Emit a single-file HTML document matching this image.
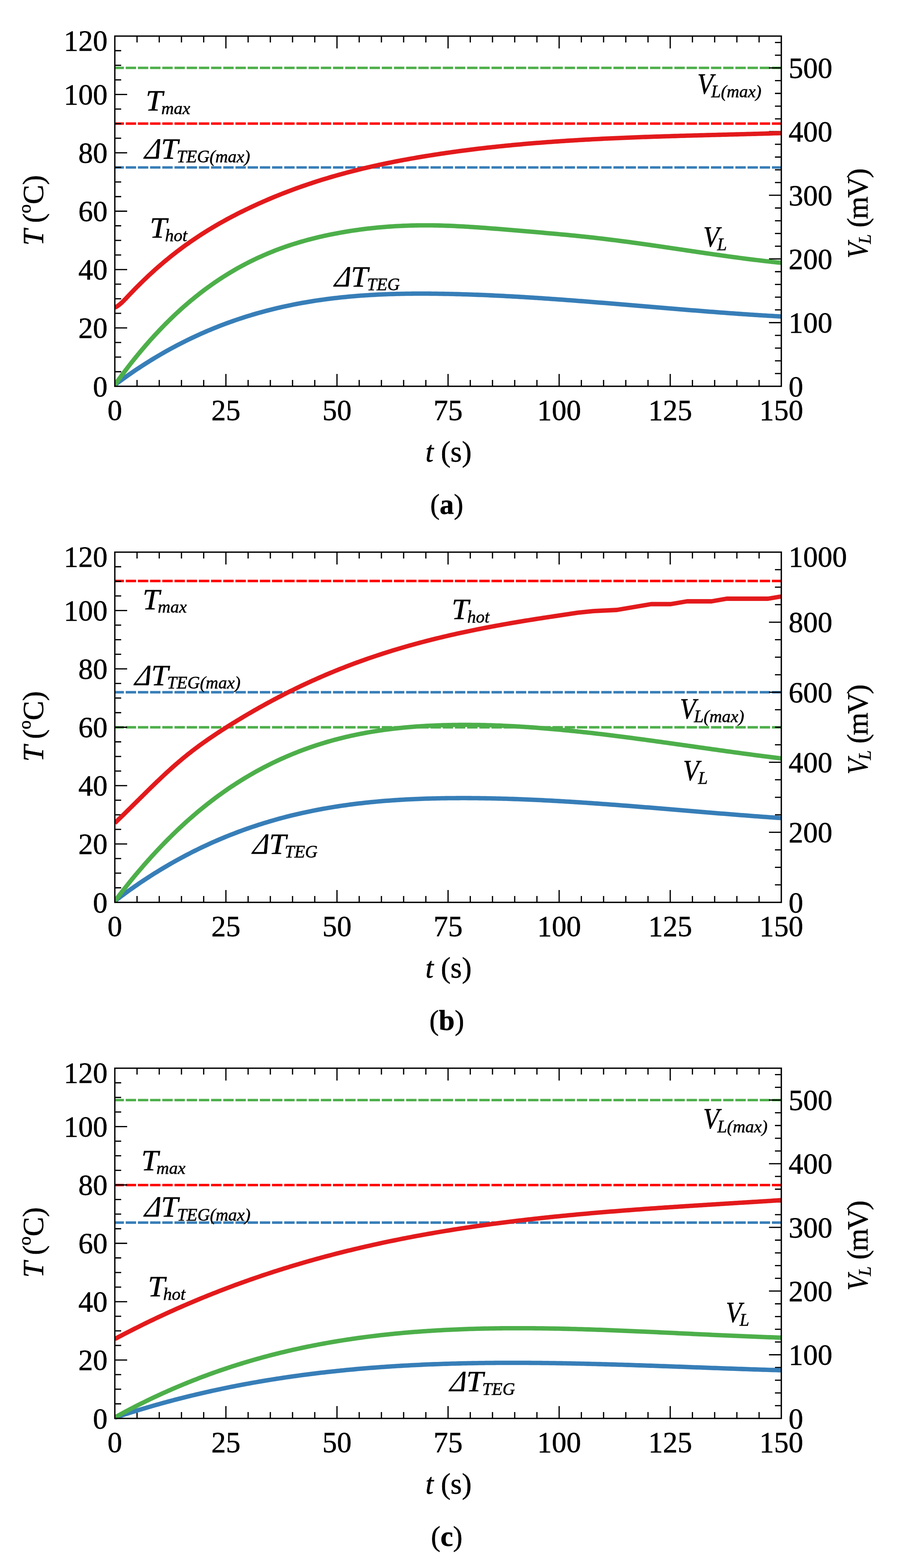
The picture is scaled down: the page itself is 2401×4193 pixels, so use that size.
<!DOCTYPE html>
<html><head><meta charset="utf-8"><title>Figure</title>
<style>
html,body{margin:0;padding:0;background:#fff;}
svg{display:block;}
text{font-family:"Liberation Serif","Times New Roman",serif;font-size:78px;fill:#000;stroke:#000;stroke-width:0.8px;}
.it{font-style:italic;}
.cap{font-size:76px;}
</style></head>
<body>
<svg width="2401" height="4193" viewBox="0 0 2401 4193">
<rect width="2401" height="4193" fill="#fff"/>
<defs><clipPath id="clip0"><rect x="307" y="86.5" width="1783" height="956.5"/></clipPath><clipPath id="clip1"><rect x="307" y="1466.5" width="1783" height="956.5"/></clipPath><clipPath id="clip2"><rect x="307" y="2846.5" width="1783" height="956.5"/></clipPath></defs>
<line x1="307" y1="181.5" x2="2089" y2="181.5" stroke="#4DAF4A" stroke-width="6.6" stroke-dasharray="27.8 4.8" stroke-dashoffset="3.5"/>
<line x1="307" y1="330.5" x2="2089" y2="330.5" stroke="#FF0000" stroke-width="6.6" stroke-dasharray="27.8 4.8" stroke-dashoffset="3.5"/>
<line x1="307" y1="447.8" x2="2089" y2="447.8" stroke="#377EB8" stroke-width="6.6" stroke-dasharray="27.8 4.8" stroke-dashoffset="3.5"/>
<path d="M366.4 1033v-17M366.4 96.5v17M425.8 1033v-17M425.8 96.5v17M485.2 1033v-17M485.2 96.5v17M544.6 1033v-17M544.6 96.5v17M604 1033v-33M604 96.5v33M663.4 1033v-17M663.4 96.5v17M722.8 1033v-17M722.8 96.5v17M782.2 1033v-17M782.2 96.5v17M841.6 1033v-17M841.6 96.5v17M901 1033v-33M901 96.5v33M960.4 1033v-17M960.4 96.5v17M1019.8 1033v-17M1019.8 96.5v17M1079.2 1033v-17M1079.2 96.5v17M1138.6 1033v-17M1138.6 96.5v17M1198 1033v-33M1198 96.5v33M1257.4 1033v-17M1257.4 96.5v17M1316.8 1033v-17M1316.8 96.5v17M1376.2 1033v-17M1376.2 96.5v17M1435.6 1033v-17M1435.6 96.5v17M1495 1033v-33M1495 96.5v33M1554.4 1033v-17M1554.4 96.5v17M1613.8 1033v-17M1613.8 96.5v17M1673.2 1033v-17M1673.2 96.5v17M1732.6 1033v-17M1732.6 96.5v17M1792 1033v-33M1792 96.5v33M1851.4 1033v-17M1851.4 96.5v17M1910.8 1033v-17M1910.8 96.5v17M1970.2 1033v-17M1970.2 96.5v17M2029.6 1033v-17M2029.6 96.5v17M307 993.98h17M307 954.96h17M307 915.94h17M307 876.92h33M307 837.9h17M307 798.88h17M307 759.85h17M307 720.83h33M307 681.81h17M307 642.79h17M307 603.77h17M307 564.75h33M307 525.73h17M307 486.71h17M307 447.69h17M307 408.67h33M307 369.65h17M307 330.62h17M307 291.6h17M307 252.58h33M307 213.56h17M307 174.54h17M307 135.52h17M2089 998.95h-17M2089 964.89h-17M2089 930.84h-17M2089 896.78h-17M2089 862.73h-33M2089 828.67h-17M2089 794.62h-17M2089 760.56h-17M2089 726.51h-17M2089 692.45h-33M2089 658.4h-17M2089 624.35h-17M2089 590.29h-17M2089 556.24h-17M2089 522.18h-33M2089 488.13h-17M2089 454.07h-17M2089 420.02h-17M2089 385.96h-17M2089 351.91h-33M2089 317.85h-17M2089 283.8h-17M2089 249.75h-17M2089 215.69h-17M2089 181.64h-33M2089 147.58h-17M2089 113.53h-17" stroke="#000" stroke-width="3.3" fill="none"/>
<path d="M307 1029.39 L312.94 1024.93 L318.88 1020.53 L324.82 1016.18 L330.76 1011.88 L336.7 1007.64 L342.64 1003.44 L348.58 999.3 L354.52 995.21 L360.46 991.17 L366.4 987.17 L372.34 983.23 L378.28 979.34 L384.22 975.5 L390.16 971.7 L396.1 967.96 L402.04 964.26 L407.98 960.61 L413.92 957.01 L419.86 953.46 L425.8 949.96 L431.74 946.5 L437.68 943.09 L443.62 939.72 L449.56 936.4 L455.5 933.13 L461.44 929.9 L467.38 926.72 L473.32 923.58 L479.26 920.49 L485.2 917.44 L491.14 914.43 L497.08 911.47 L503.02 908.55 L508.96 905.68 L514.9 902.85 L520.84 900.06 L526.78 897.31 L532.72 894.61 L538.66 891.95 L544.6 889.32 L550.54 886.74 L556.48 884.2 L562.42 881.7 L568.36 879.24 L574.3 876.83 L580.24 874.45 L586.18 872.1 L592.12 869.8 L598.06 867.54 L604 865.32 L609.94 863.13 L615.88 860.98 L621.82 858.87 L627.76 856.8 L633.7 854.76 L639.64 852.76 L645.58 850.8 L651.52 848.87 L657.46 846.98 L663.4 845.12 L669.34 843.3 L675.28 841.51 L681.22 839.76 L687.16 838.04 L693.1 836.36 L699.04 834.71 L704.98 833.09 L710.92 831.51 L716.86 829.96 L722.8 828.44 L728.74 826.95 L734.68 825.5 L740.62 824.08 L746.56 822.68 L752.5 821.32 L758.44 819.99 L764.38 818.69 L770.32 817.42 L776.26 816.19 L782.2 814.98 L788.14 813.79 L794.08 812.64 L800.02 811.52 L805.96 810.42 L811.9 809.36 L817.84 808.32 L823.78 807.31 L829.72 806.32 L835.66 805.37 L841.6 804.43 L847.54 803.53 L853.48 802.65 L859.42 801.8 L865.36 800.97 L871.3 800.17 L877.24 799.39 L883.18 798.64 L889.12 797.91 L895.06 797.2 L901 796.52 L906.94 795.86 L912.88 795.22 L918.82 794.61 L924.76 794.02 L930.7 793.45 L936.64 792.91 L942.58 792.38 L948.52 791.88 L954.46 791.4 L960.4 790.93 L966.34 790.49 L972.28 790.07 L978.22 789.67 L984.16 789.28 L990.1 788.92 L996.04 788.58 L1001.98 788.25 L1007.92 787.94 L1013.86 787.65 L1019.8 787.38 L1025.74 787.13 L1031.68 786.89 L1037.62 786.67 L1043.56 786.46 L1049.5 786.27 L1055.44 786.1 L1061.38 785.94 L1067.32 785.8 L1073.26 785.68 L1079.2 785.56 L1085.14 785.47 L1091.08 785.38 L1097.02 785.31 L1102.96 785.26 L1108.9 785.22 L1114.84 785.19 L1120.78 785.17 L1126.72 785.16 L1132.66 785.17 L1138.6 785.19 L1144.54 785.22 L1150.48 785.26 L1156.42 785.31 L1162.36 785.38 L1168.3 785.45 L1174.24 785.53 L1180.18 785.63 L1186.12 785.73 L1192.06 785.84 L1198 785.96 L1203.94 786.09 L1209.88 786.22 L1215.82 786.37 L1221.76 786.52 L1227.7 786.68 L1233.64 786.85 L1239.58 787.03 L1245.52 787.22 L1251.46 787.41 L1257.4 787.61 L1263.34 787.82 L1269.28 788.03 L1275.22 788.26 L1281.16 788.49 L1287.1 788.72 L1293.04 788.97 L1298.98 789.22 L1304.92 789.48 L1310.86 789.74 L1316.8 790.01 L1322.74 790.29 L1328.68 790.58 L1334.62 790.87 L1340.56 791.16 L1346.5 791.47 L1352.44 791.78 L1358.38 792.09 L1364.32 792.41 L1370.26 792.74 L1376.2 793.07 L1382.14 793.41 L1388.08 793.76 L1394.02 794.11 L1399.96 794.46 L1405.9 794.82 L1411.84 795.19 L1417.78 795.56 L1423.72 795.93 L1429.66 796.31 L1435.6 796.7 L1441.54 797.09 L1447.48 797.48 L1453.42 797.88 L1459.36 798.28 L1465.3 798.69 L1471.24 799.1 L1477.18 799.52 L1483.12 799.94 L1489.06 800.36 L1495 800.79 L1500.94 801.22 L1506.88 801.65 L1512.82 802.09 L1518.76 802.53 L1524.7 802.98 L1530.64 803.42 L1536.58 803.87 L1542.52 804.33 L1548.46 804.79 L1554.4 805.25 L1560.34 805.71 L1566.28 806.17 L1572.22 806.64 L1578.16 807.11 L1584.1 807.58 L1590.04 808.06 L1595.98 808.54 L1601.92 809.02 L1607.86 809.5 L1613.8 809.98 L1619.74 810.47 L1625.68 810.95 L1631.62 811.44 L1637.56 811.93 L1643.5 812.42 L1649.44 812.91 L1655.38 813.41 L1661.32 813.9 L1667.26 814.4 L1673.2 814.9 L1679.14 815.39 L1685.08 815.89 L1691.02 816.39 L1696.96 816.89 L1702.9 817.39 L1708.84 817.89 L1714.78 818.39 L1720.72 818.89 L1726.66 819.39 L1732.6 819.89 L1738.54 820.4 L1744.48 820.9 L1750.42 821.4 L1756.36 821.9 L1762.3 822.4 L1768.24 822.89 L1774.18 823.39 L1780.12 823.89 L1786.06 824.39 L1792 824.88 L1797.94 825.38 L1803.88 825.87 L1809.82 826.36 L1815.76 826.85 L1821.7 827.34 L1827.64 827.83 L1833.58 828.32 L1839.52 828.8 L1845.46 829.28 L1851.4 829.76 L1857.34 830.24 L1863.28 830.72 L1869.22 831.19 L1875.16 831.67 L1881.1 832.14 L1887.04 832.6 L1892.98 833.07 L1898.92 833.53 L1904.86 833.99 L1910.8 834.44 L1916.74 834.9 L1922.68 835.35 L1928.62 835.79 L1934.56 836.24 L1940.5 836.68 L1946.44 837.12 L1952.38 837.55 L1958.32 837.98 L1964.26 838.4 L1970.2 838.83 L1976.14 839.24 L1982.08 839.66 L1988.02 840.07 L1993.96 840.47 L1999.9 840.88 L2005.84 841.27 L2011.78 841.67 L2017.72 842.05 L2023.66 842.44 L2029.6 842.82 L2035.54 843.19 L2041.48 843.56 L2047.42 843.92 L2053.36 844.28 L2059.3 844.63 L2065.24 844.98 L2071.18 845.32 L2077.12 845.66 L2083.06 845.99 L2089 846.32" stroke="#377EB8" stroke-width="11.8" fill="none" stroke-linejoin="round" clip-path="url(#clip0)"/>
<path d="M307 1029.05 L312.94 1020.79 L318.88 1012.63 L324.82 1004.59 L330.76 996.64 L336.7 988.81 L342.64 981.08 L348.58 973.45 L354.52 965.93 L360.46 958.51 L366.4 951.19 L372.34 943.98 L378.28 936.87 L384.22 929.86 L390.16 922.95 L396.1 916.14 L402.04 909.44 L407.98 902.83 L413.92 896.32 L419.86 889.91 L425.8 883.6 L431.74 877.38 L437.68 871.26 L443.62 865.24 L449.56 859.32 L455.5 853.48 L461.44 847.75 L467.38 842.1 L473.32 836.55 L479.26 831.08 L485.2 825.71 L491.14 820.43 L497.08 815.23 L503.02 810.12 L508.96 805.1 L514.9 800.17 L520.84 795.32 L526.78 790.55 L532.72 785.87 L538.66 781.27 L544.6 776.76 L550.54 772.32 L556.48 767.96 L562.42 763.69 L568.36 759.49 L574.3 755.37 L580.24 751.32 L586.18 747.35 L592.12 743.46 L598.06 739.64 L604 735.9 L609.94 732.22 L615.88 728.62 L621.82 725.09 L627.76 721.63 L633.7 718.24 L639.64 714.91 L645.58 711.66 L651.52 708.47 L657.46 705.35 L663.4 702.29 L669.34 699.29 L675.28 696.36 L681.22 693.49 L687.16 690.69 L693.1 687.94 L699.04 685.26 L704.98 682.63 L710.92 680.06 L716.86 677.55 L722.8 675.1 L728.74 672.7 L734.68 670.36 L740.62 668.07 L746.56 665.83 L752.5 663.65 L758.44 661.52 L764.38 659.44 L770.32 657.41 L776.26 655.43 L782.2 653.5 L788.14 651.62 L794.08 649.78 L800.02 647.99 L805.96 646.25 L811.9 644.55 L817.84 642.89 L823.78 641.27 L829.72 639.7 L835.66 638.17 L841.6 636.68 L847.54 635.23 L853.48 633.82 L859.42 632.45 L865.36 631.11 L871.3 629.81 L877.24 628.55 L883.18 627.32 L889.12 626.12 L895.06 624.96 L901 623.83 L906.94 622.73 L912.88 621.66 L918.82 620.62 L924.76 619.62 L930.7 618.64 L936.64 617.7 L942.58 616.79 L948.52 615.9 L954.46 615.05 L960.4 614.22 L966.34 613.43 L972.28 612.67 L978.22 611.93 L984.16 611.22 L990.1 610.55 L996.04 609.9 L1001.98 609.28 L1007.92 608.69 L1013.86 608.13 L1019.8 607.59 L1025.74 607.09 L1031.68 606.61 L1037.62 606.16 L1043.56 605.74 L1049.5 605.34 L1055.44 604.97 L1061.38 604.63 L1067.32 604.31 L1073.26 604.03 L1079.2 603.76 L1085.14 603.53 L1091.08 603.32 L1097.02 603.13 L1102.96 602.98 L1108.9 602.84 L1114.84 602.74 L1120.78 602.66 L1126.72 602.6 L1132.66 602.57 L1138.6 602.56 L1144.54 602.58 L1150.48 602.62 L1156.42 602.69 L1162.36 602.77 L1168.3 602.88 L1174.24 603.01 L1180.18 603.17 L1186.12 603.34 L1192.06 603.53 L1198 603.74 L1203.94 603.97 L1209.88 604.22 L1215.82 604.48 L1221.76 604.77 L1227.7 605.06 L1233.64 605.38 L1239.58 605.7 L1245.52 606.04 L1251.46 606.4 L1257.4 606.77 L1263.34 607.15 L1269.28 607.54 L1275.22 607.94 L1281.16 608.36 L1287.1 608.78 L1293.04 609.21 L1298.98 609.66 L1304.92 610.11 L1310.86 610.56 L1316.8 611.03 L1322.74 611.5 L1328.68 611.97 L1334.62 612.45 L1340.56 612.94 L1346.5 613.43 L1352.44 613.92 L1358.38 614.42 L1364.32 614.91 L1370.26 615.41 L1376.2 615.91 L1382.14 616.41 L1388.08 616.91 L1394.02 617.41 L1399.96 617.91 L1405.9 618.41 L1411.84 618.91 L1417.78 619.42 L1423.72 619.93 L1429.66 620.44 L1435.6 620.95 L1441.54 621.46 L1447.48 621.98 L1453.42 622.5 L1459.36 623.02 L1465.3 623.55 L1471.24 624.08 L1477.18 624.61 L1483.12 625.15 L1489.06 625.7 L1495 626.25 L1500.94 626.8 L1506.88 627.36 L1512.82 627.92 L1518.76 628.49 L1524.7 629.07 L1530.64 629.65 L1536.58 630.24 L1542.52 630.84 L1548.46 631.45 L1554.4 632.06 L1560.34 632.68 L1566.28 633.3 L1572.22 633.94 L1578.16 634.58 L1584.1 635.23 L1590.04 635.89 L1595.98 636.56 L1601.92 637.24 L1607.86 637.93 L1613.8 638.63 L1619.74 639.34 L1625.68 640.06 L1631.62 640.79 L1637.56 641.52 L1643.5 642.27 L1649.44 643.02 L1655.38 643.79 L1661.32 644.56 L1667.26 645.34 L1673.2 646.13 L1679.14 646.92 L1685.08 647.72 L1691.02 648.53 L1696.96 649.34 L1702.9 650.16 L1708.84 650.99 L1714.78 651.82 L1720.72 652.66 L1726.66 653.5 L1732.6 654.35 L1738.54 655.2 L1744.48 656.05 L1750.42 656.91 L1756.36 657.77 L1762.3 658.64 L1768.24 659.51 L1774.18 660.38 L1780.12 661.25 L1786.06 662.13 L1792 663 L1797.94 663.88 L1803.88 664.76 L1809.82 665.64 L1815.76 666.52 L1821.7 667.4 L1827.64 668.29 L1833.58 669.17 L1839.52 670.05 L1845.46 670.93 L1851.4 671.81 L1857.34 672.68 L1863.28 673.56 L1869.22 674.43 L1875.16 675.3 L1881.1 676.17 L1887.04 677.04 L1892.98 677.9 L1898.92 678.76 L1904.86 679.62 L1910.8 680.47 L1916.74 681.32 L1922.68 682.16 L1928.62 683 L1934.56 683.83 L1940.5 684.66 L1946.44 685.48 L1952.38 686.3 L1958.32 687.11 L1964.26 687.91 L1970.2 688.7 L1976.14 689.49 L1982.08 690.27 L1988.02 691.05 L1993.96 691.81 L1999.9 692.57 L2005.84 693.32 L2011.78 694.06 L2017.72 694.79 L2023.66 695.51 L2029.6 696.22 L2035.54 696.92 L2041.48 697.61 L2047.42 698.3 L2053.36 698.96 L2059.3 699.62 L2065.24 700.27 L2071.18 700.9 L2077.12 701.53 L2083.06 702.14 L2089 702.74" stroke="#4DAF4A" stroke-width="11.8" fill="none" stroke-linejoin="round" clip-path="url(#clip0)"/>
<path d="M307 822.47 L312.94 819.27 L318.88 815.01 L324.82 809.91 L330.76 804.2 L336.7 798.09 L342.64 791.79 L348.58 785.52 L354.52 779.33 L360.46 773.22 L366.4 767.2 L372.34 761.25 L378.28 755.39 L384.22 749.61 L390.16 743.92 L396.1 738.3 L402.04 732.77 L407.98 727.32 L413.92 721.95 L419.86 716.67 L425.8 711.47 L431.74 706.35 L437.68 701.31 L443.62 696.35 L449.56 691.46 L455.5 686.66 L461.44 681.93 L467.38 677.27 L473.32 672.69 L479.26 668.18 L485.2 663.74 L491.14 659.37 L497.08 655.06 L503.02 650.83 L508.96 646.66 L514.9 642.56 L520.84 638.52 L526.78 634.54 L532.72 630.63 L538.66 626.78 L544.6 622.98 L550.54 619.24 L556.48 615.56 L562.42 611.94 L568.36 608.37 L574.3 604.85 L580.24 601.39 L586.18 597.98 L592.12 594.61 L598.06 591.3 L604 588.03 L609.94 584.81 L615.88 581.64 L621.82 578.5 L627.76 575.42 L633.7 572.37 L639.64 569.36 L645.58 566.39 L651.52 563.47 L657.46 560.57 L663.4 557.72 L669.34 554.9 L675.28 552.11 L681.22 549.36 L687.16 546.64 L693.1 543.95 L699.04 541.3 L704.98 538.68 L710.92 536.09 L716.86 533.54 L722.8 531.02 L728.74 528.53 L734.68 526.07 L740.62 523.64 L746.56 521.24 L752.5 518.88 L758.44 516.54 L764.38 514.24 L770.32 511.96 L776.26 509.71 L782.2 507.5 L788.14 505.31 L794.08 503.15 L800.02 501.02 L805.96 498.92 L811.9 496.84 L817.84 494.8 L823.78 492.78 L829.72 490.79 L835.66 488.82 L841.6 486.88 L847.54 484.97 L853.48 483.08 L859.42 481.22 L865.36 479.38 L871.3 477.57 L877.24 475.78 L883.18 474.02 L889.12 472.28 L895.06 470.57 L901 468.88 L906.94 467.21 L912.88 465.57 L918.82 463.95 L924.76 462.35 L930.7 460.78 L936.64 459.22 L942.58 457.69 L948.52 456.18 L954.46 454.69 L960.4 453.22 L966.34 451.77 L972.28 450.34 L978.22 448.93 L984.16 447.55 L990.1 446.18 L996.04 444.83 L1001.98 443.49 L1007.92 442.18 L1013.86 440.89 L1019.8 439.61 L1025.74 438.35 L1031.68 437.11 L1037.62 435.89 L1043.56 434.68 L1049.5 433.49 L1055.44 432.32 L1061.38 431.16 L1067.32 430.02 L1073.26 428.89 L1079.2 427.78 L1085.14 426.68 L1091.08 425.6 L1097.02 424.53 L1102.96 423.48 L1108.9 422.44 L1114.84 421.41 L1120.78 420.4 L1126.72 419.4 L1132.66 418.41 L1138.6 417.44 L1144.54 416.47 L1150.48 415.52 L1156.42 414.58 L1162.36 413.65 L1168.3 412.74 L1174.24 411.84 L1180.18 410.94 L1186.12 410.06 L1192.06 409.19 L1198 408.33 L1203.94 407.49 L1209.88 406.65 L1215.82 405.83 L1221.76 405.01 L1227.7 404.21 L1233.64 403.42 L1239.58 402.64 L1245.52 401.86 L1251.46 401.1 L1257.4 400.35 L1263.34 399.61 L1269.28 398.88 L1275.22 398.16 L1281.16 397.45 L1287.1 396.75 L1293.04 396.06 L1298.98 395.38 L1304.92 394.71 L1310.86 394.05 L1316.8 393.4 L1322.74 392.76 L1328.68 392.13 L1334.62 391.5 L1340.56 390.89 L1346.5 390.28 L1352.44 389.69 L1358.38 389.1 L1364.32 388.52 L1370.26 387.95 L1376.2 387.39 L1382.14 386.84 L1388.08 386.29 L1394.02 385.76 L1399.96 385.23 L1405.9 384.71 L1411.84 384.2 L1417.78 383.69 L1423.72 383.2 L1429.66 382.71 L1435.6 382.23 L1441.54 381.76 L1447.48 381.29 L1453.42 380.84 L1459.36 380.38 L1465.3 379.94 L1471.24 379.51 L1477.18 379.08 L1483.12 378.65 L1489.06 378.24 L1495 377.83 L1500.94 377.43 L1506.88 377.03 L1512.82 376.65 L1518.76 376.26 L1524.7 375.89 L1530.64 375.52 L1536.58 375.16 L1542.52 374.8 L1548.46 374.45 L1554.4 374.1 L1560.34 373.76 L1566.28 373.43 L1572.22 373.1 L1578.16 372.78 L1584.1 372.46 L1590.04 372.15 L1595.98 371.84 L1601.92 371.54 L1607.86 371.25 L1613.8 370.96 L1619.74 370.67 L1625.68 370.39 L1631.62 370.11 L1637.56 369.84 L1643.5 369.57 L1649.44 369.31 L1655.38 369.05 L1661.32 368.8 L1667.26 368.55 L1673.2 368.3 L1679.14 368.06 L1685.08 367.82 L1691.02 367.59 L1696.96 367.36 L1702.9 367.13 L1708.84 366.91 L1714.78 366.69 L1720.72 366.47 L1726.66 366.26 L1732.6 366.05 L1738.54 365.84 L1744.48 365.64 L1750.42 365.43 L1756.36 365.24 L1762.3 365.04 L1768.24 364.85 L1774.18 364.66 L1780.12 364.47 L1786.06 364.29 L1792 364.1 L1797.94 363.92 L1803.88 363.75 L1809.82 363.57 L1815.76 363.39 L1821.7 363.22 L1827.64 363.05 L1833.58 362.88 L1839.52 362.72 L1845.46 362.55 L1851.4 362.38 L1857.34 362.22 L1863.28 362.06 L1869.22 361.9 L1875.16 361.74 L1881.1 361.58 L1887.04 361.42 L1892.98 361.27 L1898.92 361.11 L1904.86 360.95 L1910.8 360.8 L1916.74 360.64 L1922.68 360.49 L1928.62 360.33 L1934.56 360.18 L1940.5 360.03 L1946.44 359.87 L1952.38 359.72 L1958.32 359.56 L1964.26 359.41 L1970.2 359.25 L1976.14 359.1 L1982.08 358.94 L1988.02 358.79 L1993.96 358.63 L1999.9 358.47 L2005.84 358.31 L2011.78 358.15 L2017.72 357.99 L2023.66 357.83 L2029.6 357.66 L2035.54 357.5 L2041.48 357.33 L2047.42 357.16 L2053.36 356.99 L2059.3 356.82 L2065.24 356.65 L2071.18 356.47 L2077.12 356.3 L2083.06 356.12 L2089 355.93" stroke="#E31A1C" stroke-width="11.8" fill="none" stroke-linejoin="round" clip-path="url(#clip0)"/>
<rect x="307" y="96.5" width="1782" height="936.5" fill="none" stroke="#000" stroke-width="3.6"/>
<text x="287.5" y="1059.5" text-anchor="end">0</text>
<text x="287.5" y="903.42" text-anchor="end">20</text>
<text x="287.5" y="747.33" text-anchor="end">40</text>
<text x="287.5" y="591.25" text-anchor="end">60</text>
<text x="287.5" y="435.17" text-anchor="end">80</text>
<text x="287.5" y="279.08" text-anchor="end">100</text>
<text x="287.5" y="134.8" text-anchor="end">120</text>
<text x="307" y="1123.3" text-anchor="middle">0</text>
<text x="604" y="1123.3" text-anchor="middle">25</text>
<text x="901" y="1123.3" text-anchor="middle">50</text>
<text x="1198" y="1123.3" text-anchor="middle">75</text>
<text x="1495" y="1123.3" text-anchor="middle">100</text>
<text x="1792" y="1123.3" text-anchor="middle">125</text>
<text x="2089" y="1123.3" text-anchor="middle">150</text>
<text x="2108.5" y="1059.5">0</text>
<text x="2108.5" y="889.23">100</text>
<text x="2108.5" y="718.95">200</text>
<text x="2108.5" y="548.68">300</text>
<text x="2108.5" y="378.41">400</text>
<text x="2108.5" y="208.14">500</text>
<text x="1137.48" y="1233.8"><tspan class="it">t</tspan> (s)</text>
<g transform="translate(114.8 657) rotate(-90)">
<text class="it" x="0" y="0">T</text>
<text x="60.7" y="0">(<tspan style="font-size:48px" dy="-33.3">o</tspan><tspan dy="33.3">C)</tspan></text>
</g>
<g transform="translate(2318.5 700) rotate(-90)">
<text class="it" transform="translate(8.94 0) scale(0.9 1)">V</text>
<text class="it" style="font-size:46.5px" x="47.84" y="9.7">L</text>
<text x="91.48" y="0" textLength="158.5" lengthAdjust="spacing">(mV)</text>
</g>
<text x="1194.5" y="1374.3" text-anchor="middle" class="cap">(<tspan font-weight="bold">a</tspan>)</text>
<text class="it" transform="translate(389.54 295) scale(1.05 1)">T</text><text class="it" style="font-size:46.5px" x="431.22" y="304.6">max</text>
<text class="it" transform="translate(385.53 424.4) skewX(-13) scale(0.9 1)">&#916;</text><text class="it" transform="translate(430.54 424.4) scale(1.05 1)">T</text><text class="it" style="font-size:46.5px" x="472.46" y="434.3">TEG(max)</text>
<text class="it" transform="translate(400.54 634.9) scale(1.05 1)">T</text><text class="it" style="font-size:46.5px" x="441.22" y="645">hot</text>
<text class="it" transform="translate(893.33 765.7) skewX(-13) scale(0.9 1)">&#916;</text><text class="it" transform="translate(938.34 765.7) scale(1.05 1)">T</text><text class="it" style="font-size:46.5px" x="981.36" y="776.2">TEG</text>
<text class="it" transform="translate(1864.34 250) scale(0.9 1)">V</text><text class="it" style="font-size:46.5px" x="1901.54" y="260">L(max)</text>
<text class="it" transform="translate(1880.24 659) scale(0.9 1)">V</text><text class="it" style="font-size:46.5px" x="1917.44" y="669">L</text>
<line x1="307" y1="1944.9" x2="2089" y2="1944.9" stroke="#4DAF4A" stroke-width="6.6" stroke-dasharray="27.8 4.8" stroke-dashoffset="3.5"/>
<line x1="307" y1="1553.6" x2="2089" y2="1553.6" stroke="#FF0000" stroke-width="6.6" stroke-dasharray="27.8 4.8" stroke-dashoffset="3.5"/>
<line x1="307" y1="1851.1" x2="2089" y2="1851.1" stroke="#377EB8" stroke-width="6.6" stroke-dasharray="27.8 4.8" stroke-dashoffset="3.5"/>
<path d="M366.4 2413v-17M366.4 1476.5v17M425.8 2413v-17M425.8 1476.5v17M485.2 2413v-17M485.2 1476.5v17M544.6 2413v-17M544.6 1476.5v17M604 2413v-33M604 1476.5v33M663.4 2413v-17M663.4 1476.5v17M722.8 2413v-17M722.8 1476.5v17M782.2 2413v-17M782.2 1476.5v17M841.6 2413v-17M841.6 1476.5v17M901 2413v-33M901 1476.5v33M960.4 2413v-17M960.4 1476.5v17M1019.8 2413v-17M1019.8 1476.5v17M1079.2 2413v-17M1079.2 1476.5v17M1138.6 2413v-17M1138.6 1476.5v17M1198 2413v-33M1198 1476.5v33M1257.4 2413v-17M1257.4 1476.5v17M1316.8 2413v-17M1316.8 1476.5v17M1376.2 2413v-17M1376.2 1476.5v17M1435.6 2413v-17M1435.6 1476.5v17M1495 2413v-33M1495 1476.5v33M1554.4 2413v-17M1554.4 1476.5v17M1613.8 2413v-17M1613.8 1476.5v17M1673.2 2413v-17M1673.2 1476.5v17M1732.6 2413v-17M1732.6 1476.5v17M1792 2413v-33M1792 1476.5v33M1851.4 2413v-17M1851.4 1476.5v17M1910.8 2413v-17M1910.8 1476.5v17M1970.2 2413v-17M1970.2 1476.5v17M2029.6 2413v-17M2029.6 1476.5v17M307 2373.98h17M307 2334.96h17M307 2295.94h17M307 2256.92h33M307 2217.9h17M307 2178.88h17M307 2139.85h17M307 2100.83h33M307 2061.81h17M307 2022.79h17M307 1983.77h17M307 1944.75h33M307 1905.73h17M307 1866.71h17M307 1827.69h17M307 1788.67h33M307 1749.65h17M307 1710.62h17M307 1671.6h17M307 1632.58h33M307 1593.56h17M307 1554.54h17M307 1515.52h17M2089 2366.18h-17M2089 2319.35h-17M2089 2272.53h-17M2089 2225.7h-33M2089 2178.88h-17M2089 2132.05h-17M2089 2085.22h-17M2089 2038.4h-33M2089 1991.58h-17M2089 1944.75h-17M2089 1897.92h-17M2089 1851.1h-33M2089 1804.28h-17M2089 1757.45h-17M2089 1710.62h-17M2089 1663.8h-33M2089 1616.97h-17M2089 1570.15h-17M2089 1523.33h-17" stroke="#000" stroke-width="3.3" fill="none"/>
<path d="M307 2409.53 L312.94 2404.99 L318.88 2400.5 L324.82 2396.06 L330.76 2391.66 L336.7 2387.32 L342.64 2383.02 L348.58 2378.77 L354.52 2374.57 L360.46 2370.41 L366.4 2366.31 L372.34 2362.24 L378.28 2358.23 L384.22 2354.26 L390.16 2350.34 L396.1 2346.46 L402.04 2342.63 L407.98 2338.84 L413.92 2335.1 L419.86 2331.4 L425.8 2327.75 L431.74 2324.14 L437.68 2320.58 L443.62 2317.06 L449.56 2313.58 L455.5 2310.14 L461.44 2306.75 L467.38 2303.4 L473.32 2300.1 L479.26 2296.83 L485.2 2293.61 L491.14 2290.43 L497.08 2287.29 L503.02 2284.19 L508.96 2281.13 L514.9 2278.11 L520.84 2275.13 L526.78 2272.2 L532.72 2269.3 L538.66 2266.44 L544.6 2263.62 L550.54 2260.84 L556.48 2258.1 L562.42 2255.4 L568.36 2252.73 L574.3 2250.11 L580.24 2247.52 L586.18 2244.97 L592.12 2242.45 L598.06 2239.98 L604 2237.54 L609.94 2235.13 L615.88 2232.76 L621.82 2230.43 L627.76 2228.13 L633.7 2225.87 L639.64 2223.65 L645.58 2221.46 L651.52 2219.3 L657.46 2217.18 L663.4 2215.09 L669.34 2213.04 L675.28 2211.01 L681.22 2209.03 L687.16 2207.07 L693.1 2205.15 L699.04 2203.26 L704.98 2201.41 L710.92 2199.58 L716.86 2197.79 L722.8 2196.03 L728.74 2194.3 L734.68 2192.6 L740.62 2190.93 L746.56 2189.29 L752.5 2187.68 L758.44 2186.11 L764.38 2184.56 L770.32 2183.04 L776.26 2181.55 L782.2 2180.09 L788.14 2178.66 L794.08 2177.26 L800.02 2175.88 L805.96 2174.53 L811.9 2173.21 L817.84 2171.92 L823.78 2170.66 L829.72 2169.42 L835.66 2168.21 L841.6 2167.02 L847.54 2165.86 L853.48 2164.73 L859.42 2163.62 L865.36 2162.54 L871.3 2161.48 L877.24 2160.45 L883.18 2159.45 L889.12 2158.46 L895.06 2157.5 L901 2156.57 L906.94 2155.66 L912.88 2154.77 L918.82 2153.9 L924.76 2153.06 L930.7 2152.24 L936.64 2151.44 L942.58 2150.66 L948.52 2149.91 L954.46 2149.18 L960.4 2148.46 L966.34 2147.77 L972.28 2147.1 L978.22 2146.45 L984.16 2145.82 L990.1 2145.21 L996.04 2144.63 L1001.98 2144.05 L1007.92 2143.5 L1013.86 2142.97 L1019.8 2142.46 L1025.74 2141.96 L1031.68 2141.49 L1037.62 2141.03 L1043.56 2140.58 L1049.5 2140.16 L1055.44 2139.75 L1061.38 2139.36 L1067.32 2138.99 L1073.26 2138.63 L1079.2 2138.29 L1085.14 2137.96 L1091.08 2137.65 L1097.02 2137.36 L1102.96 2137.08 L1108.9 2136.81 L1114.84 2136.56 L1120.78 2136.33 L1126.72 2136.11 L1132.66 2135.9 L1138.6 2135.7 L1144.54 2135.52 L1150.48 2135.35 L1156.42 2135.2 L1162.36 2135.05 L1168.3 2134.92 L1174.24 2134.8 L1180.18 2134.7 L1186.12 2134.6 L1192.06 2134.51 L1198 2134.44 L1203.94 2134.38 L1209.88 2134.32 L1215.82 2134.28 L1221.76 2134.25 L1227.7 2134.23 L1233.64 2134.22 L1239.58 2134.21 L1245.52 2134.22 L1251.46 2134.24 L1257.4 2134.27 L1263.34 2134.31 L1269.28 2134.35 L1275.22 2134.41 L1281.16 2134.48 L1287.1 2134.55 L1293.04 2134.64 L1298.98 2134.73 L1304.92 2134.83 L1310.86 2134.95 L1316.8 2135.07 L1322.74 2135.19 L1328.68 2135.33 L1334.62 2135.48 L1340.56 2135.63 L1346.5 2135.79 L1352.44 2135.96 L1358.38 2136.14 L1364.32 2136.33 L1370.26 2136.52 L1376.2 2136.73 L1382.14 2136.94 L1388.08 2137.15 L1394.02 2137.38 L1399.96 2137.61 L1405.9 2137.85 L1411.84 2138.1 L1417.78 2138.35 L1423.72 2138.61 L1429.66 2138.88 L1435.6 2139.15 L1441.54 2139.43 L1447.48 2139.72 L1453.42 2140.01 L1459.36 2140.31 L1465.3 2140.62 L1471.24 2140.93 L1477.18 2141.25 L1483.12 2141.58 L1489.06 2141.91 L1495 2142.24 L1500.94 2142.58 L1506.88 2142.93 L1512.82 2143.28 L1518.76 2143.64 L1524.7 2144.01 L1530.64 2144.37 L1536.58 2144.75 L1542.52 2145.13 L1548.46 2145.51 L1554.4 2145.9 L1560.34 2146.29 L1566.28 2146.69 L1572.22 2147.09 L1578.16 2147.49 L1584.1 2147.9 L1590.04 2148.32 L1595.98 2148.74 L1601.92 2149.16 L1607.86 2149.59 L1613.8 2150.02 L1619.74 2150.45 L1625.68 2150.89 L1631.62 2151.33 L1637.56 2151.77 L1643.5 2152.22 L1649.44 2152.67 L1655.38 2153.12 L1661.32 2153.58 L1667.26 2154.04 L1673.2 2154.5 L1679.14 2154.96 L1685.08 2155.43 L1691.02 2155.9 L1696.96 2156.37 L1702.9 2156.84 L1708.84 2157.32 L1714.78 2157.8 L1720.72 2158.28 L1726.66 2158.76 L1732.6 2159.24 L1738.54 2159.73 L1744.48 2160.21 L1750.42 2160.7 L1756.36 2161.19 L1762.3 2161.68 L1768.24 2162.17 L1774.18 2162.67 L1780.12 2163.16 L1786.06 2163.65 L1792 2164.15 L1797.94 2164.65 L1803.88 2165.14 L1809.82 2165.64 L1815.76 2166.14 L1821.7 2166.63 L1827.64 2167.13 L1833.58 2167.63 L1839.52 2168.13 L1845.46 2168.62 L1851.4 2169.12 L1857.34 2169.62 L1863.28 2170.11 L1869.22 2170.61 L1875.16 2171.1 L1881.1 2171.6 L1887.04 2172.09 L1892.98 2172.58 L1898.92 2173.07 L1904.86 2173.56 L1910.8 2174.05 L1916.74 2174.54 L1922.68 2175.02 L1928.62 2175.51 L1934.56 2175.99 L1940.5 2176.47 L1946.44 2176.95 L1952.38 2177.43 L1958.32 2177.9 L1964.26 2178.37 L1970.2 2178.84 L1976.14 2179.31 L1982.08 2179.78 L1988.02 2180.24 L1993.96 2180.7 L1999.9 2181.16 L2005.84 2181.61 L2011.78 2182.06 L2017.72 2182.51 L2023.66 2182.95 L2029.6 2183.4 L2035.54 2183.83 L2041.48 2184.27 L2047.42 2184.7 L2053.36 2185.13 L2059.3 2185.55 L2065.24 2185.97 L2071.18 2186.39 L2077.12 2186.8 L2083.06 2187.21 L2089 2187.61" stroke="#377EB8" stroke-width="11.8" fill="none" stroke-linejoin="round" clip-path="url(#clip1)"/>
<path d="M307 2409.63 L312.94 2401.8 L318.88 2394.05 L324.82 2386.39 L330.76 2378.8 L336.7 2371.3 L342.64 2363.88 L348.58 2356.54 L354.52 2349.29 L360.46 2342.11 L366.4 2335.02 L372.34 2328 L378.28 2321.07 L384.22 2314.22 L390.16 2307.44 L396.1 2300.75 L402.04 2294.13 L407.98 2287.59 L413.92 2281.13 L419.86 2274.75 L425.8 2268.45 L431.74 2262.22 L437.68 2256.07 L443.62 2250 L449.56 2244 L455.5 2238.08 L461.44 2232.24 L467.38 2226.47 L473.32 2220.77 L479.26 2215.15 L485.2 2209.6 L491.14 2204.13 L497.08 2198.73 L503.02 2193.4 L508.96 2188.15 L514.9 2182.96 L520.84 2177.85 L526.78 2172.81 L532.72 2167.84 L538.66 2162.94 L544.6 2158.12 L550.54 2153.36 L556.48 2148.67 L562.42 2144.04 L568.36 2139.49 L574.3 2135.01 L580.24 2130.59 L586.18 2126.24 L592.12 2121.95 L598.06 2117.73 L604 2113.57 L609.94 2109.48 L615.88 2105.45 L621.82 2101.49 L627.76 2097.59 L633.7 2093.75 L639.64 2089.97 L645.58 2086.25 L651.52 2082.6 L657.46 2079 L663.4 2075.47 L669.34 2071.99 L675.28 2068.57 L681.22 2065.21 L687.16 2061.9 L693.1 2058.66 L699.04 2055.47 L704.98 2052.33 L710.92 2049.25 L716.86 2046.22 L722.8 2043.25 L728.74 2040.33 L734.68 2037.47 L740.62 2034.66 L746.56 2031.9 L752.5 2029.19 L758.44 2026.53 L764.38 2023.92 L770.32 2021.36 L776.26 2018.85 L782.2 2016.39 L788.14 2013.98 L794.08 2011.62 L800.02 2009.3 L805.96 2007.03 L811.9 2004.81 L817.84 2002.63 L823.78 2000.49 L829.72 1998.41 L835.66 1996.36 L841.6 1994.37 L847.54 1992.41 L853.48 1990.5 L859.42 1988.63 L865.36 1986.81 L871.3 1985.02 L877.24 1983.28 L883.18 1981.58 L889.12 1979.92 L895.06 1978.3 L901 1976.72 L906.94 1975.18 L912.88 1973.67 L918.82 1972.21 L924.76 1970.79 L930.7 1969.4 L936.64 1968.05 L942.58 1966.74 L948.52 1965.46 L954.46 1964.22 L960.4 1963.01 L966.34 1961.84 L972.28 1960.71 L978.22 1959.61 L984.16 1958.54 L990.1 1957.5 L996.04 1956.5 L1001.98 1955.53 L1007.92 1954.6 L1013.86 1953.69 L1019.8 1952.82 L1025.74 1951.97 L1031.68 1951.16 L1037.62 1950.38 L1043.56 1949.62 L1049.5 1948.9 L1055.44 1948.2 L1061.38 1947.54 L1067.32 1946.9 L1073.26 1946.28 L1079.2 1945.7 L1085.14 1945.14 L1091.08 1944.6 L1097.02 1944.1 L1102.96 1943.61 L1108.9 1943.15 L1114.84 1942.72 L1120.78 1942.31 L1126.72 1941.92 L1132.66 1941.56 L1138.6 1941.22 L1144.54 1940.9 L1150.48 1940.6 L1156.42 1940.32 L1162.36 1940.07 L1168.3 1939.83 L1174.24 1939.62 L1180.18 1939.42 L1186.12 1939.24 L1192.06 1939.08 L1198 1938.94 L1203.94 1938.82 L1209.88 1938.72 L1215.82 1938.63 L1221.76 1938.56 L1227.7 1938.5 L1233.64 1938.47 L1239.58 1938.45 L1245.52 1938.44 L1251.46 1938.46 L1257.4 1938.49 L1263.34 1938.53 L1269.28 1938.59 L1275.22 1938.67 L1281.16 1938.76 L1287.1 1938.87 L1293.04 1938.99 L1298.98 1939.13 L1304.92 1939.29 L1310.86 1939.45 L1316.8 1939.64 L1322.74 1939.83 L1328.68 1940.05 L1334.62 1940.27 L1340.56 1940.51 L1346.5 1940.77 L1352.44 1941.03 L1358.38 1941.32 L1364.32 1941.61 L1370.26 1941.92 L1376.2 1942.24 L1382.14 1942.57 L1388.08 1942.92 L1394.02 1943.28 L1399.96 1943.65 L1405.9 1944.03 L1411.84 1944.43 L1417.78 1944.84 L1423.72 1945.26 L1429.66 1945.69 L1435.6 1946.13 L1441.54 1946.58 L1447.48 1947.05 L1453.42 1947.52 L1459.36 1948.01 L1465.3 1948.51 L1471.24 1949.01 L1477.18 1949.53 L1483.12 1950.06 L1489.06 1950.6 L1495 1951.15 L1500.94 1951.71 L1506.88 1952.27 L1512.82 1952.85 L1518.76 1953.43 L1524.7 1954.03 L1530.64 1954.63 L1536.58 1955.25 L1542.52 1955.87 L1548.46 1956.5 L1554.4 1957.13 L1560.34 1957.78 L1566.28 1958.43 L1572.22 1959.09 L1578.16 1959.76 L1584.1 1960.44 L1590.04 1961.12 L1595.98 1961.81 L1601.92 1962.51 L1607.86 1963.22 L1613.8 1963.93 L1619.74 1964.64 L1625.68 1965.37 L1631.62 1966.1 L1637.56 1966.83 L1643.5 1967.58 L1649.44 1968.32 L1655.38 1969.08 L1661.32 1969.83 L1667.26 1970.6 L1673.2 1971.37 L1679.14 1972.14 L1685.08 1972.92 L1691.02 1973.7 L1696.96 1974.49 L1702.9 1975.28 L1708.84 1976.07 L1714.78 1976.87 L1720.72 1977.67 L1726.66 1978.48 L1732.6 1979.29 L1738.54 1980.1 L1744.48 1980.92 L1750.42 1981.74 L1756.36 1982.56 L1762.3 1983.39 L1768.24 1984.21 L1774.18 1985.04 L1780.12 1985.87 L1786.06 1986.71 L1792 1987.54 L1797.94 1988.38 L1803.88 1989.22 L1809.82 1990.06 L1815.76 1990.9 L1821.7 1991.74 L1827.64 1992.58 L1833.58 1993.42 L1839.52 1994.27 L1845.46 1995.11 L1851.4 1995.96 L1857.34 1996.8 L1863.28 1997.65 L1869.22 1998.49 L1875.16 1999.33 L1881.1 2000.18 L1887.04 2001.02 L1892.98 2001.86 L1898.92 2002.7 L1904.86 2003.54 L1910.8 2004.38 L1916.74 2005.21 L1922.68 2006.05 L1928.62 2006.88 L1934.56 2007.71 L1940.5 2008.54 L1946.44 2009.36 L1952.38 2010.18 L1958.32 2011.01 L1964.26 2011.82 L1970.2 2012.64 L1976.14 2013.45 L1982.08 2014.26 L1988.02 2015.06 L1993.96 2015.86 L1999.9 2016.66 L2005.84 2017.45 L2011.78 2018.24 L2017.72 2019.03 L2023.66 2019.81 L2029.6 2020.58 L2035.54 2021.35 L2041.48 2022.12 L2047.42 2022.88 L2053.36 2023.64 L2059.3 2024.39 L2065.24 2025.13 L2071.18 2025.87 L2077.12 2026.6 L2083.06 2027.33 L2089 2028.05" stroke="#4DAF4A" stroke-width="11.8" fill="none" stroke-linejoin="round" clip-path="url(#clip1)"/>
<path d="M307 2201.07 L312.94 2195.35 L318.88 2189.59 L324.82 2183.8 L330.76 2177.98 L336.7 2172.13 L342.64 2166.27 L348.58 2160.4 L354.52 2154.51 L360.46 2148.62 L366.4 2142.72 L372.34 2136.83 L378.28 2130.95 L384.22 2125.08 L390.16 2119.22 L396.1 2113.39 L402.04 2107.57 L407.98 2101.79 L413.92 2096.04 L419.86 2090.33 L425.8 2084.66 L431.74 2079.03 L437.68 2073.46 L443.62 2067.94 L449.56 2062.48 L455.5 2057.09 L461.44 2051.76 L467.38 2046.51 L473.32 2041.33 L479.26 2036.23 L485.2 2031.22 L491.14 2026.3 L497.08 2021.46 L503.02 2016.71 L508.96 2012.04 L514.9 2007.44 L520.84 2002.92 L526.78 1998.47 L532.72 1994.1 L538.66 1989.78 L544.6 1985.53 L550.54 1981.34 L556.48 1977.21 L562.42 1973.12 L568.36 1969.09 L574.3 1965.11 L580.24 1961.17 L586.18 1957.28 L592.12 1953.42 L598.06 1949.59 L604 1945.8 L609.94 1942.04 L615.88 1938.31 L621.82 1934.61 L627.76 1930.94 L633.7 1927.29 L639.64 1923.68 L645.58 1920.09 L651.52 1916.53 L657.46 1913.01 L663.4 1909.51 L669.34 1906.04 L675.28 1902.59 L681.22 1899.18 L687.16 1895.8 L693.1 1892.44 L699.04 1889.11 L704.98 1885.81 L710.92 1882.54 L716.86 1879.29 L722.8 1876.08 L728.74 1872.89 L734.68 1869.73 L740.62 1866.6 L746.56 1863.49 L752.5 1860.41 L758.44 1857.36 L764.38 1854.34 L770.32 1851.35 L776.26 1848.38 L782.2 1845.44 L788.14 1842.52 L794.08 1839.64 L800.02 1836.78 L805.96 1833.95 L811.9 1831.14 L817.84 1828.36 L823.78 1825.61 L829.72 1822.88 L835.66 1820.19 L841.6 1817.51 L847.54 1814.87 L853.48 1812.25 L859.42 1809.65 L865.36 1807.09 L871.3 1804.54 L877.24 1802.03 L883.18 1799.54 L889.12 1797.08 L895.06 1794.64 L901 1792.23 L906.94 1789.84 L912.88 1787.48 L918.82 1785.14 L924.76 1782.83 L930.7 1780.55 L936.64 1778.28 L942.58 1776.05 L948.52 1773.83 L954.46 1771.65 L960.4 1769.48 L966.34 1767.34 L972.28 1765.22 L978.22 1763.13 L984.16 1761.05 L990.1 1759 L996.04 1756.98 L1001.98 1754.97 L1007.92 1752.99 L1013.86 1751.03 L1019.8 1749.09 L1025.74 1747.17 L1031.68 1745.28 L1037.62 1743.4 L1043.56 1741.55 L1049.5 1739.72 L1055.44 1737.9 L1061.38 1736.11 L1067.32 1734.34 L1073.26 1732.58 L1079.2 1730.85 L1085.14 1729.14 L1091.08 1727.44 L1097.02 1725.77 L1102.96 1724.11 L1108.9 1722.47 L1114.84 1720.85 L1120.78 1719.25 L1126.72 1717.67 L1132.66 1716.1 L1138.6 1714.55 L1144.54 1713.02 L1150.48 1711.51 L1156.42 1710.01 L1162.36 1708.53 L1168.3 1707.07 L1174.24 1705.62 L1180.18 1704.19 L1186.12 1702.77 L1192.06 1701.37 L1198 1699.99 L1203.94 1698.62 L1209.88 1697.27 L1215.82 1695.93 L1221.76 1694.6 L1227.7 1693.29 L1233.64 1692 L1239.58 1690.72 L1245.52 1689.45 L1251.46 1688.19 L1257.4 1686.95 L1263.34 1685.73 L1269.28 1684.51 L1275.22 1683.31 L1281.16 1682.12 L1287.1 1680.94 L1293.04 1679.78 L1298.98 1678.63 L1304.92 1677.49 L1310.86 1676.36 L1316.8 1675.24 L1322.74 1674.13 L1328.68 1673.04 L1334.62 1671.95 L1340.56 1670.88 L1346.5 1669.81 L1352.44 1668.76 L1358.38 1667.72 L1364.32 1666.68 L1370.26 1665.66 L1376.2 1664.64 L1382.14 1663.63 L1388.08 1662.64 L1394.02 1661.65 L1399.96 1660.67 L1405.9 1659.69 L1411.84 1658.73 L1417.78 1657.77 L1423.72 1656.83 L1429.66 1655.88 L1435.6 1654.95 L1441.54 1654.02 L1447.48 1653.1 L1453.42 1652.19 L1459.36 1651.28 L1465.3 1650.38 L1471.24 1649.48 L1477.18 1648.59 L1483.12 1647.71 L1489.06 1646.83 L1490.25 1646.66 L1544.9 1638.3 L1586.48 1634.2 L1649.44 1631 L1740.92 1615.5 L1793.19 1615.5 L1837.14 1608 L1902.48 1608 L1942.88 1601 L2053.36 1601 L2089 1595" stroke="#E31A1C" stroke-width="11.8" fill="none" stroke-linejoin="round" clip-path="url(#clip1)"/>
<rect x="307" y="1476.5" width="1782" height="936.5" fill="none" stroke="#000" stroke-width="3.6"/>
<text x="287.5" y="2439.5" text-anchor="end">0</text>
<text x="287.5" y="2283.42" text-anchor="end">20</text>
<text x="287.5" y="2127.33" text-anchor="end">40</text>
<text x="287.5" y="1971.25" text-anchor="end">60</text>
<text x="287.5" y="1815.17" text-anchor="end">80</text>
<text x="287.5" y="1659.08" text-anchor="end">100</text>
<text x="287.5" y="1514.8" text-anchor="end">120</text>
<text x="307" y="2503.3" text-anchor="middle">0</text>
<text x="604" y="2503.3" text-anchor="middle">25</text>
<text x="901" y="2503.3" text-anchor="middle">50</text>
<text x="1198" y="2503.3" text-anchor="middle">75</text>
<text x="1495" y="2503.3" text-anchor="middle">100</text>
<text x="1792" y="2503.3" text-anchor="middle">125</text>
<text x="2089" y="2503.3" text-anchor="middle">150</text>
<text x="2108.5" y="2439.5">0</text>
<text x="2108.5" y="2252.2">200</text>
<text x="2108.5" y="2064.9">400</text>
<text x="2108.5" y="1877.6">600</text>
<text x="2108.5" y="1690.3">800</text>
<text x="2108.5" y="1514.8">1000</text>
<text x="1137.48" y="2613.8"><tspan class="it">t</tspan> (s)</text>
<g transform="translate(114.8 2037) rotate(-90)">
<text class="it" x="0" y="0">T</text>
<text x="60.7" y="0">(<tspan style="font-size:48px" dy="-33.3">o</tspan><tspan dy="33.3">C)</tspan></text>
</g>
<g transform="translate(2318.5 2080) rotate(-90)">
<text class="it" transform="translate(8.94 0) scale(0.9 1)">V</text>
<text class="it" style="font-size:46.5px" x="47.84" y="9.7">L</text>
<text x="91.48" y="0" textLength="158.5" lengthAdjust="spacing">(mV)</text>
</g>
<text x="1194.5" y="2754.3" text-anchor="middle" class="cap">(<tspan font-weight="bold">b</tspan>)</text>
<text class="it" transform="translate(381.34 1628.9) scale(1.05 1)">T</text><text class="it" style="font-size:46.5px" x="421.92" y="1638.2">max</text>
<text class="it" transform="translate(359.13 1832.1) skewX(-13) scale(0.9 1)">&#916;</text><text class="it" transform="translate(404.14 1832.1) scale(1.05 1)">T</text><text class="it" style="font-size:46.5px" x="446.76" y="1841.4">TEG(max)</text>
<text class="it" transform="translate(1207.54 1655) scale(1.05 1)">T</text><text class="it" style="font-size:46.5px" x="1249.22" y="1665">hot</text>
<text class="it" transform="translate(674.43 2282.9) skewX(-13) scale(0.9 1)">&#916;</text><text class="it" transform="translate(719.44 2282.9) scale(1.05 1)">T</text><text class="it" style="font-size:46.5px" x="761.36" y="2292.8">TEG</text>
<text class="it" transform="translate(1817.64 1920.8) scale(0.9 1)">V</text><text class="it" style="font-size:46.5px" x="1855.44" y="1931.2">L(max)</text>
<text class="it" transform="translate(1826.24 2085.7) scale(0.9 1)">V</text><text class="it" style="font-size:46.5px" x="1866.54" y="2095.7">L</text>
<line x1="307" y1="2941.8" x2="2089" y2="2941.8" stroke="#4DAF4A" stroke-width="6.6" stroke-dasharray="27.8 4.8" stroke-dashoffset="3.5"/>
<line x1="307" y1="3169" x2="2089" y2="3169" stroke="#FF0000" stroke-width="6.6" stroke-dasharray="27.8 4.8" stroke-dashoffset="3.5"/>
<line x1="307" y1="3269.4" x2="2089" y2="3269.4" stroke="#377EB8" stroke-width="6.6" stroke-dasharray="27.8 4.8" stroke-dashoffset="3.5"/>
<path d="M366.4 3793v-17M366.4 2856.5v17M425.8 3793v-17M425.8 2856.5v17M485.2 3793v-17M485.2 2856.5v17M544.6 3793v-17M544.6 2856.5v17M604 3793v-33M604 2856.5v33M663.4 3793v-17M663.4 2856.5v17M722.8 3793v-17M722.8 2856.5v17M782.2 3793v-17M782.2 2856.5v17M841.6 3793v-17M841.6 2856.5v17M901 3793v-33M901 2856.5v33M960.4 3793v-17M960.4 2856.5v17M1019.8 3793v-17M1019.8 2856.5v17M1079.2 3793v-17M1079.2 2856.5v17M1138.6 3793v-17M1138.6 2856.5v17M1198 3793v-33M1198 2856.5v33M1257.4 3793v-17M1257.4 2856.5v17M1316.8 3793v-17M1316.8 2856.5v17M1376.2 3793v-17M1376.2 2856.5v17M1435.6 3793v-17M1435.6 2856.5v17M1495 3793v-33M1495 2856.5v33M1554.4 3793v-17M1554.4 2856.5v17M1613.8 3793v-17M1613.8 2856.5v17M1673.2 3793v-17M1673.2 2856.5v17M1732.6 3793v-17M1732.6 2856.5v17M1792 3793v-33M1792 2856.5v33M1851.4 3793v-17M1851.4 2856.5v17M1910.8 3793v-17M1910.8 2856.5v17M1970.2 3793v-17M1970.2 2856.5v17M2029.6 3793v-17M2029.6 2856.5v17M307 3753.98h17M307 3714.96h17M307 3675.94h17M307 3636.92h33M307 3597.9h17M307 3558.88h17M307 3519.85h17M307 3480.83h33M307 3441.81h17M307 3402.79h17M307 3363.77h17M307 3324.75h33M307 3285.73h17M307 3246.71h17M307 3207.69h17M307 3168.67h33M307 3129.65h17M307 3090.62h17M307 3051.6h17M307 3012.58h33M307 2973.56h17M307 2934.54h17M307 2895.52h17M2089 3758.95h-17M2089 3724.89h-17M2089 3690.84h-17M2089 3656.78h-17M2089 3622.73h-33M2089 3588.67h-17M2089 3554.62h-17M2089 3520.56h-17M2089 3486.51h-17M2089 3452.45h-33M2089 3418.4h-17M2089 3384.35h-17M2089 3350.29h-17M2089 3316.24h-17M2089 3282.18h-33M2089 3248.13h-17M2089 3214.07h-17M2089 3180.02h-17M2089 3145.96h-17M2089 3111.91h-33M2089 3077.85h-17M2089 3043.8h-17M2089 3009.75h-17M2089 2975.69h-17M2089 2941.64h-33M2089 2907.58h-17M2089 2873.53h-17" stroke="#000" stroke-width="3.3" fill="none"/>
<path d="M307 3790.97 L312.94 3788.99 L318.88 3787.03 L324.82 3785.09 L330.76 3783.16 L336.7 3781.25 L342.64 3779.36 L348.58 3777.49 L354.52 3775.63 L360.46 3773.78 L366.4 3771.96 L372.34 3770.14 L378.28 3768.35 L384.22 3766.57 L390.16 3764.81 L396.1 3763.06 L402.04 3761.33 L407.98 3759.62 L413.92 3757.92 L419.86 3756.24 L425.8 3754.57 L431.74 3752.92 L437.68 3751.28 L443.62 3749.66 L449.56 3748.05 L455.5 3746.46 L461.44 3744.89 L467.38 3743.33 L473.32 3741.78 L479.26 3740.25 L485.2 3738.74 L491.14 3737.24 L497.08 3735.75 L503.02 3734.28 L508.96 3732.83 L514.9 3731.39 L520.84 3729.96 L526.78 3728.55 L532.72 3727.15 L538.66 3725.77 L544.6 3724.4 L550.54 3723.05 L556.48 3721.71 L562.42 3720.38 L568.36 3719.07 L574.3 3717.78 L580.24 3716.49 L586.18 3715.22 L592.12 3713.97 L598.06 3712.72 L604 3711.5 L609.94 3710.28 L615.88 3709.08 L621.82 3707.89 L627.76 3706.72 L633.7 3705.56 L639.64 3704.41 L645.58 3703.28 L651.52 3702.16 L657.46 3701.05 L663.4 3699.95 L669.34 3698.87 L675.28 3697.8 L681.22 3696.75 L687.16 3695.7 L693.1 3694.67 L699.04 3693.66 L704.98 3692.65 L710.92 3691.66 L716.86 3690.68 L722.8 3689.71 L728.74 3688.75 L734.68 3687.81 L740.62 3686.88 L746.56 3685.96 L752.5 3685.06 L758.44 3684.16 L764.38 3683.28 L770.32 3682.41 L776.26 3681.55 L782.2 3680.7 L788.14 3679.87 L794.08 3679.04 L800.02 3678.23 L805.96 3677.43 L811.9 3676.64 L817.84 3675.86 L823.78 3675.1 L829.72 3674.34 L835.66 3673.6 L841.6 3672.86 L847.54 3672.14 L853.48 3671.43 L859.42 3670.73 L865.36 3670.04 L871.3 3669.36 L877.24 3668.7 L883.18 3668.04 L889.12 3667.39 L895.06 3666.76 L901 3666.13 L906.94 3665.52 L912.88 3664.91 L918.82 3664.32 L924.76 3663.73 L930.7 3663.16 L936.64 3662.6 L942.58 3662.04 L948.52 3661.5 L954.46 3660.96 L960.4 3660.44 L966.34 3659.93 L972.28 3659.42 L978.22 3658.93 L984.16 3658.44 L990.1 3657.96 L996.04 3657.5 L1001.98 3657.04 L1007.92 3656.59 L1013.86 3656.15 L1019.8 3655.73 L1025.74 3655.3 L1031.68 3654.89 L1037.62 3654.49 L1043.56 3654.1 L1049.5 3653.71 L1055.44 3653.34 L1061.38 3652.97 L1067.32 3652.61 L1073.26 3652.26 L1079.2 3651.92 L1085.14 3651.59 L1091.08 3651.27 L1097.02 3650.95 L1102.96 3650.64 L1108.9 3650.34 L1114.84 3650.05 L1120.78 3649.77 L1126.72 3649.49 L1132.66 3649.23 L1138.6 3648.97 L1144.54 3648.72 L1150.48 3648.47 L1156.42 3648.24 L1162.36 3648.01 L1168.3 3647.79 L1174.24 3647.57 L1180.18 3647.37 L1186.12 3647.17 L1192.06 3646.98 L1198 3646.79 L1203.94 3646.62 L1209.88 3646.45 L1215.82 3646.28 L1221.76 3646.13 L1227.7 3645.98 L1233.64 3645.84 L1239.58 3645.7 L1245.52 3645.58 L1251.46 3645.45 L1257.4 3645.34 L1263.34 3645.23 L1269.28 3645.13 L1275.22 3645.03 L1281.16 3644.94 L1287.1 3644.86 L1293.04 3644.78 L1298.98 3644.71 L1304.92 3644.65 L1310.86 3644.59 L1316.8 3644.54 L1322.74 3644.49 L1328.68 3644.45 L1334.62 3644.41 L1340.56 3644.38 L1346.5 3644.36 L1352.44 3644.34 L1358.38 3644.33 L1364.32 3644.32 L1370.26 3644.32 L1376.2 3644.32 L1382.14 3644.33 L1388.08 3644.35 L1394.02 3644.37 L1399.96 3644.39 L1405.9 3644.42 L1411.84 3644.45 L1417.78 3644.49 L1423.72 3644.53 L1429.66 3644.58 L1435.6 3644.64 L1441.54 3644.69 L1447.48 3644.75 L1453.42 3644.82 L1459.36 3644.89 L1465.3 3644.97 L1471.24 3645.05 L1477.18 3645.13 L1483.12 3645.22 L1489.06 3645.31 L1495 3645.41 L1500.94 3645.51 L1506.88 3645.61 L1512.82 3645.72 L1518.76 3645.83 L1524.7 3645.94 L1530.64 3646.06 L1536.58 3646.18 L1542.52 3646.31 L1548.46 3646.44 L1554.4 3646.57 L1560.34 3646.71 L1566.28 3646.85 L1572.22 3646.99 L1578.16 3647.13 L1584.1 3647.28 L1590.04 3647.43 L1595.98 3647.59 L1601.92 3647.75 L1607.86 3647.91 L1613.8 3648.07 L1619.74 3648.23 L1625.68 3648.4 L1631.62 3648.57 L1637.56 3648.74 L1643.5 3648.92 L1649.44 3649.1 L1655.38 3649.28 L1661.32 3649.46 L1667.26 3649.64 L1673.2 3649.83 L1679.14 3650.02 L1685.08 3650.21 L1691.02 3650.4 L1696.96 3650.59 L1702.9 3650.79 L1708.84 3650.99 L1714.78 3651.19 L1720.72 3651.39 L1726.66 3651.59 L1732.6 3651.79 L1738.54 3652 L1744.48 3652.2 L1750.42 3652.41 L1756.36 3652.62 L1762.3 3652.83 L1768.24 3653.04 L1774.18 3653.25 L1780.12 3653.46 L1786.06 3653.68 L1792 3653.89 L1797.94 3654.11 L1803.88 3654.32 L1809.82 3654.54 L1815.76 3654.76 L1821.7 3654.97 L1827.64 3655.19 L1833.58 3655.41 L1839.52 3655.63 L1845.46 3655.84 L1851.4 3656.06 L1857.34 3656.28 L1863.28 3656.5 L1869.22 3656.72 L1875.16 3656.94 L1881.1 3657.16 L1887.04 3657.37 L1892.98 3657.59 L1898.92 3657.81 L1904.86 3658.03 L1910.8 3658.24 L1916.74 3658.46 L1922.68 3658.67 L1928.62 3658.89 L1934.56 3659.1 L1940.5 3659.31 L1946.44 3659.53 L1952.38 3659.74 L1958.32 3659.95 L1964.26 3660.16 L1970.2 3660.36 L1976.14 3660.57 L1982.08 3660.77 L1988.02 3660.98 L1993.96 3661.18 L1999.9 3661.38 L2005.84 3661.58 L2011.78 3661.78 L2017.72 3661.98 L2023.66 3662.17 L2029.6 3662.36 L2035.54 3662.55 L2041.48 3662.74 L2047.42 3662.93 L2053.36 3663.11 L2059.3 3663.3 L2065.24 3663.48 L2071.18 3663.65 L2077.12 3663.83 L2083.06 3664 L2089 3664.17" stroke="#377EB8" stroke-width="11.8" fill="none" stroke-linejoin="round" clip-path="url(#clip2)"/>
<path d="M307 3790.38 L312.94 3787.09 L318.88 3783.84 L324.82 3780.61 L330.76 3777.42 L336.7 3774.25 L342.64 3771.11 L348.58 3768 L354.52 3764.92 L360.46 3761.87 L366.4 3758.85 L372.34 3755.85 L378.28 3752.88 L384.22 3749.94 L390.16 3747.03 L396.1 3744.14 L402.04 3741.28 L407.98 3738.45 L413.92 3735.65 L419.86 3732.88 L425.8 3730.13 L431.74 3727.4 L437.68 3724.71 L443.62 3722.04 L449.56 3719.4 L455.5 3716.78 L461.44 3714.19 L467.38 3711.63 L473.32 3709.09 L479.26 3706.58 L485.2 3704.09 L491.14 3701.63 L497.08 3699.19 L503.02 3696.78 L508.96 3694.4 L514.9 3692.04 L520.84 3689.71 L526.78 3687.4 L532.72 3685.11 L538.66 3682.85 L544.6 3680.62 L550.54 3678.41 L556.48 3676.22 L562.42 3674.06 L568.36 3671.92 L574.3 3669.8 L580.24 3667.71 L586.18 3665.64 L592.12 3663.6 L598.06 3661.58 L604 3659.58 L609.94 3657.61 L615.88 3655.65 L621.82 3653.73 L627.76 3651.82 L633.7 3649.94 L639.64 3648.08 L645.58 3646.24 L651.52 3644.42 L657.46 3642.63 L663.4 3640.86 L669.34 3639.11 L675.28 3637.38 L681.22 3635.67 L687.16 3633.99 L693.1 3632.33 L699.04 3630.68 L704.98 3629.06 L710.92 3627.46 L716.86 3625.88 L722.8 3624.33 L728.74 3622.79 L734.68 3621.27 L740.62 3619.78 L746.56 3618.3 L752.5 3616.84 L758.44 3615.41 L764.38 3613.99 L770.32 3612.6 L776.26 3611.22 L782.2 3609.86 L788.14 3608.52 L794.08 3607.21 L800.02 3605.91 L805.96 3604.63 L811.9 3603.37 L817.84 3602.12 L823.78 3600.9 L829.72 3599.7 L835.66 3598.51 L841.6 3597.34 L847.54 3596.19 L853.48 3595.06 L859.42 3593.94 L865.36 3592.85 L871.3 3591.77 L877.24 3590.71 L883.18 3589.67 L889.12 3588.64 L895.06 3587.63 L901 3586.64 L906.94 3585.66 L912.88 3584.71 L918.82 3583.76 L924.76 3582.84 L930.7 3581.93 L936.64 3581.04 L942.58 3580.16 L948.52 3579.3 L954.46 3578.46 L960.4 3577.63 L966.34 3576.82 L972.28 3576.02 L978.22 3575.24 L984.16 3574.48 L990.1 3573.73 L996.04 3572.99 L1001.98 3572.27 L1007.92 3571.57 L1013.86 3570.88 L1019.8 3570.2 L1025.74 3569.54 L1031.68 3568.89 L1037.62 3568.26 L1043.56 3567.64 L1049.5 3567.03 L1055.44 3566.44 L1061.38 3565.87 L1067.32 3565.3 L1073.26 3564.75 L1079.2 3564.22 L1085.14 3563.69 L1091.08 3563.18 L1097.02 3562.68 L1102.96 3562.2 L1108.9 3561.73 L1114.84 3561.27 L1120.78 3560.82 L1126.72 3560.39 L1132.66 3559.97 L1138.6 3559.56 L1144.54 3559.16 L1150.48 3558.77 L1156.42 3558.4 L1162.36 3558.04 L1168.3 3557.68 L1174.24 3557.35 L1180.18 3557.02 L1186.12 3556.7 L1192.06 3556.39 L1198 3556.1 L1203.94 3555.81 L1209.88 3555.54 L1215.82 3555.28 L1221.76 3555.02 L1227.7 3554.78 L1233.64 3554.55 L1239.58 3554.33 L1245.52 3554.12 L1251.46 3553.91 L1257.4 3553.72 L1263.34 3553.54 L1269.28 3553.37 L1275.22 3553.2 L1281.16 3553.05 L1287.1 3552.91 L1293.04 3552.77 L1298.98 3552.65 L1304.92 3552.53 L1310.86 3552.42 L1316.8 3552.32 L1322.74 3552.23 L1328.68 3552.15 L1334.62 3552.08 L1340.56 3552.01 L1346.5 3551.96 L1352.44 3551.91 L1358.38 3551.87 L1364.32 3551.84 L1370.26 3551.82 L1376.2 3551.8 L1382.14 3551.79 L1388.08 3551.79 L1394.02 3551.8 L1399.96 3551.81 L1405.9 3551.83 L1411.84 3551.86 L1417.78 3551.9 L1423.72 3551.94 L1429.66 3551.99 L1435.6 3552.05 L1441.54 3552.11 L1447.48 3552.18 L1453.42 3552.26 L1459.36 3552.35 L1465.3 3552.44 L1471.24 3552.53 L1477.18 3552.63 L1483.12 3552.74 L1489.06 3552.86 L1495 3552.97 L1500.94 3553.1 L1506.88 3553.23 L1512.82 3553.37 L1518.76 3553.51 L1524.7 3553.66 L1530.64 3553.81 L1536.58 3553.97 L1542.52 3554.13 L1548.46 3554.3 L1554.4 3554.47 L1560.34 3554.65 L1566.28 3554.83 L1572.22 3555.02 L1578.16 3555.21 L1584.1 3555.4 L1590.04 3555.6 L1595.98 3555.81 L1601.92 3556.01 L1607.86 3556.22 L1613.8 3556.44 L1619.74 3556.66 L1625.68 3556.88 L1631.62 3557.11 L1637.56 3557.34 L1643.5 3557.57 L1649.44 3557.8 L1655.38 3558.04 L1661.32 3558.28 L1667.26 3558.53 L1673.2 3558.78 L1679.14 3559.03 L1685.08 3559.28 L1691.02 3559.53 L1696.96 3559.79 L1702.9 3560.05 L1708.84 3560.31 L1714.78 3560.58 L1720.72 3560.84 L1726.66 3561.11 L1732.6 3561.38 L1738.54 3561.65 L1744.48 3561.93 L1750.42 3562.2 L1756.36 3562.48 L1762.3 3562.75 L1768.24 3563.03 L1774.18 3563.31 L1780.12 3563.59 L1786.06 3563.87 L1792 3564.16 L1797.94 3564.44 L1803.88 3564.72 L1809.82 3565.01 L1815.76 3565.29 L1821.7 3565.57 L1827.64 3565.86 L1833.58 3566.14 L1839.52 3566.43 L1845.46 3566.71 L1851.4 3567 L1857.34 3567.28 L1863.28 3567.56 L1869.22 3567.85 L1875.16 3568.13 L1881.1 3568.41 L1887.04 3568.69 L1892.98 3568.97 L1898.92 3569.25 L1904.86 3569.52 L1910.8 3569.8 L1916.74 3570.08 L1922.68 3570.35 L1928.62 3570.62 L1934.56 3570.89 L1940.5 3571.16 L1946.44 3571.43 L1952.38 3571.69 L1958.32 3571.95 L1964.26 3572.21 L1970.2 3572.47 L1976.14 3572.73 L1982.08 3572.98 L1988.02 3573.23 L1993.96 3573.48 L1999.9 3573.72 L2005.84 3573.96 L2011.78 3574.2 L2017.72 3574.44 L2023.66 3574.67 L2029.6 3574.9 L2035.54 3575.13 L2041.48 3575.35 L2047.42 3575.57 L2053.36 3575.79 L2059.3 3576 L2065.24 3576.21 L2071.18 3576.41 L2077.12 3576.61 L2083.06 3576.8 L2089 3577" stroke="#4DAF4A" stroke-width="11.8" fill="none" stroke-linejoin="round" clip-path="url(#clip2)"/>
<path d="M307 3580.6 L312.94 3577.44 L318.88 3574.3 L324.82 3571.18 L330.76 3568.08 L336.7 3565 L342.64 3561.94 L348.58 3558.9 L354.52 3555.88 L360.46 3552.88 L366.4 3549.9 L372.34 3546.94 L378.28 3543.99 L384.22 3541.07 L390.16 3538.16 L396.1 3535.28 L402.04 3532.41 L407.98 3529.56 L413.92 3526.74 L419.86 3523.93 L425.8 3521.13 L431.74 3518.36 L437.68 3515.61 L443.62 3512.87 L449.56 3510.16 L455.5 3507.46 L461.44 3504.78 L467.38 3502.11 L473.32 3499.47 L479.26 3496.84 L485.2 3494.23 L491.14 3491.64 L497.08 3489.07 L503.02 3486.52 L508.96 3483.98 L514.9 3481.46 L520.84 3478.96 L526.78 3476.47 L532.72 3474.01 L538.66 3471.56 L544.6 3469.12 L550.54 3466.71 L556.48 3464.31 L562.42 3461.93 L568.36 3459.57 L574.3 3457.22 L580.24 3454.89 L586.18 3452.58 L592.12 3450.28 L598.06 3448 L604 3445.73 L609.94 3443.49 L615.88 3441.26 L621.82 3439.04 L627.76 3436.84 L633.7 3434.66 L639.64 3432.5 L645.58 3430.35 L651.52 3428.21 L657.46 3426.09 L663.4 3423.99 L669.34 3421.9 L675.28 3419.83 L681.22 3417.78 L687.16 3415.74 L693.1 3413.71 L699.04 3411.71 L704.98 3409.71 L710.92 3407.73 L716.86 3405.77 L722.8 3403.82 L728.74 3401.89 L734.68 3399.97 L740.62 3398.07 L746.56 3396.18 L752.5 3394.31 L758.44 3392.45 L764.38 3390.6 L770.32 3388.77 L776.26 3386.96 L782.2 3385.16 L788.14 3383.37 L794.08 3381.6 L800.02 3379.84 L805.96 3378.1 L811.9 3376.37 L817.84 3374.65 L823.78 3372.95 L829.72 3371.26 L835.66 3369.59 L841.6 3367.93 L847.54 3366.28 L853.48 3364.64 L859.42 3363.02 L865.36 3361.42 L871.3 3359.82 L877.24 3358.24 L883.18 3356.68 L889.12 3355.12 L895.06 3353.58 L901 3352.05 L906.94 3350.54 L912.88 3349.03 L918.82 3347.54 L924.76 3346.07 L930.7 3344.6 L936.64 3343.15 L942.58 3341.71 L948.52 3340.28 L954.46 3338.87 L960.4 3337.47 L966.34 3336.08 L972.28 3334.7 L978.22 3333.33 L984.16 3331.98 L990.1 3330.63 L996.04 3329.3 L1001.98 3327.98 L1007.92 3326.68 L1013.86 3325.38 L1019.8 3324.1 L1025.74 3322.82 L1031.68 3321.56 L1037.62 3320.31 L1043.56 3319.07 L1049.5 3317.85 L1055.44 3316.63 L1061.38 3315.42 L1067.32 3314.23 L1073.26 3313.04 L1079.2 3311.87 L1085.14 3310.71 L1091.08 3309.56 L1097.02 3308.42 L1102.96 3307.28 L1108.9 3306.16 L1114.84 3305.05 L1120.78 3303.95 L1126.72 3302.87 L1132.66 3301.79 L1138.6 3300.72 L1144.54 3299.66 L1150.48 3298.61 L1156.42 3297.57 L1162.36 3296.54 L1168.3 3295.52 L1174.24 3294.51 L1180.18 3293.51 L1186.12 3292.52 L1192.06 3291.54 L1198 3290.56 L1203.94 3289.6 L1209.88 3288.65 L1215.82 3287.7 L1221.76 3286.77 L1227.7 3285.84 L1233.64 3284.92 L1239.58 3284.01 L1245.52 3283.11 L1251.46 3282.22 L1257.4 3281.34 L1263.34 3280.46 L1269.28 3279.6 L1275.22 3278.74 L1281.16 3277.89 L1287.1 3277.05 L1293.04 3276.22 L1298.98 3275.39 L1304.92 3274.58 L1310.86 3273.77 L1316.8 3272.97 L1322.74 3272.18 L1328.68 3271.39 L1334.62 3270.61 L1340.56 3269.84 L1346.5 3269.08 L1352.44 3268.33 L1358.38 3267.58 L1364.32 3266.84 L1370.26 3266.11 L1376.2 3265.38 L1382.14 3264.66 L1388.08 3263.95 L1394.02 3263.25 L1399.96 3262.55 L1405.9 3261.86 L1411.84 3261.18 L1417.78 3260.5 L1423.72 3259.83 L1429.66 3259.17 L1435.6 3258.51 L1441.54 3257.86 L1447.48 3257.21 L1453.42 3256.58 L1459.36 3255.94 L1465.3 3255.32 L1471.24 3254.7 L1477.18 3254.08 L1483.12 3253.48 L1489.06 3252.87 L1495 3252.28 L1500.94 3251.69 L1506.88 3251.1 L1512.82 3250.52 L1518.76 3249.95 L1524.7 3249.38 L1530.64 3248.82 L1536.58 3248.26 L1542.52 3247.7 L1548.46 3247.16 L1554.4 3246.61 L1560.34 3246.08 L1566.28 3245.54 L1572.22 3245.01 L1578.16 3244.49 L1584.1 3243.97 L1590.04 3243.46 L1595.98 3242.95 L1601.92 3242.44 L1607.86 3241.94 L1613.8 3241.45 L1619.74 3240.95 L1625.68 3240.47 L1631.62 3239.98 L1637.56 3239.5 L1643.5 3239.03 L1649.44 3238.56 L1655.38 3238.09 L1661.32 3237.62 L1667.26 3237.16 L1673.2 3236.7 L1679.14 3236.25 L1685.08 3235.8 L1691.02 3235.35 L1696.96 3234.91 L1702.9 3234.47 L1708.84 3234.03 L1714.78 3233.6 L1720.72 3233.17 L1726.66 3232.74 L1732.6 3232.32 L1738.54 3231.89 L1744.48 3231.47 L1750.42 3231.06 L1756.36 3230.64 L1762.3 3230.23 L1768.24 3229.82 L1774.18 3229.41 L1780.12 3229.01 L1786.06 3228.61 L1792 3228.21 L1797.94 3227.81 L1803.88 3227.41 L1809.82 3227.02 L1815.76 3226.63 L1821.7 3226.24 L1827.64 3225.85 L1833.58 3225.46 L1839.52 3225.07 L1845.46 3224.69 L1851.4 3224.31 L1857.34 3223.93 L1863.28 3223.55 L1869.22 3223.17 L1875.16 3222.79 L1881.1 3222.41 L1887.04 3222.04 L1892.98 3221.66 L1898.92 3221.29 L1904.86 3220.92 L1910.8 3220.55 L1916.74 3220.17 L1922.68 3219.8 L1928.62 3219.43 L1934.56 3219.06 L1940.5 3218.69 L1946.44 3218.32 L1952.38 3217.96 L1958.32 3217.59 L1964.26 3217.22 L1970.2 3216.85 L1976.14 3216.48 L1982.08 3216.11 L1988.02 3215.74 L1993.96 3215.37 L1999.9 3215 L2005.84 3214.63 L2011.78 3214.26 L2017.72 3213.89 L2023.66 3213.52 L2029.6 3213.15 L2035.54 3212.77 L2041.48 3212.4 L2047.42 3212.02 L2053.36 3211.65 L2059.3 3211.27 L2065.24 3210.89 L2071.18 3210.51 L2077.12 3210.13 L2083.06 3209.75 L2089 3209.36" stroke="#E31A1C" stroke-width="11.8" fill="none" stroke-linejoin="round" clip-path="url(#clip2)"/>
<rect x="307" y="2856.5" width="1782" height="936.5" fill="none" stroke="#000" stroke-width="3.6"/>
<text x="287.5" y="3819.5" text-anchor="end">0</text>
<text x="287.5" y="3663.42" text-anchor="end">20</text>
<text x="287.5" y="3507.33" text-anchor="end">40</text>
<text x="287.5" y="3351.25" text-anchor="end">60</text>
<text x="287.5" y="3195.17" text-anchor="end">80</text>
<text x="287.5" y="3039.08" text-anchor="end">100</text>
<text x="287.5" y="2894.8" text-anchor="end">120</text>
<text x="307" y="3883.3" text-anchor="middle">0</text>
<text x="604" y="3883.3" text-anchor="middle">25</text>
<text x="901" y="3883.3" text-anchor="middle">50</text>
<text x="1198" y="3883.3" text-anchor="middle">75</text>
<text x="1495" y="3883.3" text-anchor="middle">100</text>
<text x="1792" y="3883.3" text-anchor="middle">125</text>
<text x="2089" y="3883.3" text-anchor="middle">150</text>
<text x="2108.5" y="3819.5">0</text>
<text x="2108.5" y="3649.23">100</text>
<text x="2108.5" y="3478.95">200</text>
<text x="2108.5" y="3308.68">300</text>
<text x="2108.5" y="3138.41">400</text>
<text x="2108.5" y="2968.14">500</text>
<text x="1137.48" y="3993.8"><tspan class="it">t</tspan> (s)</text>
<g transform="translate(114.8 3417) rotate(-90)">
<text class="it" x="0" y="0">T</text>
<text x="60.7" y="0">(<tspan style="font-size:48px" dy="-33.3">o</tspan><tspan dy="33.3">C)</tspan></text>
</g>
<g transform="translate(2318.5 3460) rotate(-90)">
<text class="it" transform="translate(8.94 0) scale(0.9 1)">V</text>
<text class="it" style="font-size:46.5px" x="47.84" y="9.7">L</text>
<text x="91.48" y="0" textLength="158.5" lengthAdjust="spacing">(mV)</text>
</g>
<text x="1194.5" y="4134.3" text-anchor="middle" class="cap">(<tspan font-weight="bold">c</tspan>)</text>
<text class="it" transform="translate(377.84 3129.2) scale(1.05 1)">T</text><text class="it" style="font-size:46.5px" x="418.32" y="3139.2">max</text>
<text class="it" transform="translate(385.53 3253.1) skewX(-13) scale(0.9 1)">&#916;</text><text class="it" transform="translate(430.54 3253.1) scale(1.05 1)">T</text><text class="it" style="font-size:46.5px" x="473.46" y="3263.7">TEG(max)</text>
<text class="it" transform="translate(395.54 3466.1) scale(1.05 1)">T</text><text class="it" style="font-size:46.5px" x="436.32" y="3476.3">hot</text>
<text class="it" transform="translate(1201.63 3719.8) skewX(-13) scale(0.9 1)">&#916;</text><text class="it" transform="translate(1246.64 3719.8) scale(1.05 1)">T</text><text class="it" style="font-size:46.5px" x="1289.26" y="3729.7">TEG</text>
<text class="it" transform="translate(1880.04 3016.8) scale(0.9 1)">V</text><text class="it" style="font-size:46.5px" x="1917.94" y="3028">L(max)</text>
<text class="it" transform="translate(1940.44 3534.8) scale(0.9 1)">V</text><text class="it" style="font-size:46.5px" x="1977.54" y="3544.8">L</text>
</svg>
</body></html>
